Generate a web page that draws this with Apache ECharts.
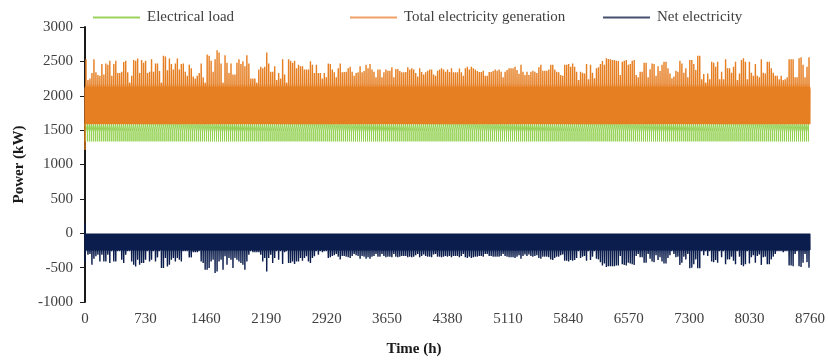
<!DOCTYPE html>
<html>
<head>
<meta charset="utf-8">
<script src="https://cdn.jsdelivr.net/npm/echarts@6/dist/echarts.min.js"></script>
<style>
  html, body { margin: 0; padding: 0; background: #fff; }
  #chart { width: 828px; height: 360px; }
</style>
</head>
<body>
<div id="chart"></div>
<script>
// Hourly simulation over one year (8760 h): load, generation and net exchange.
const xTicks = [0, 730, 1460, 2190, 2920, 3650, 4380, 5110, 5840, 6570, 7300, 8030, 8760];
const yTicks = [-1000, -500, 0, 500, 1000, 1500, 2000, 2500, 3000];
const seriesNames = ['Electrical load', 'Total electricity generation', 'Net electricity'];

// Typical hourly profile of the electrical load (kW), hour 0..23
const loadHours = [1598, 1600, 1596, 1600, 1470, 1336, 1480, 1597, 1600, 1598, 1600, 1596,
                   1600, 1598, 1595, 1600, 1597, 1600, 1598, 1600, 1596, 1600, 1598, 1600];

// Typical hourly generation (kW); hour 12 carries the daily peak below
const genHours = [1600, 2110, 1588, 2125, 1595, 2095, 1610, 2130, 1585, 2118, 2150, 2190,
                  2200, 2180, 2150, 2105, 1592, 2128, 1586, 2090, 1605, 2122, 1590, 2100];

// Typical hourly net electricity (kW); hour 12 carries the daily minimum below
const netHours = [-15, -180, -5, -228, -30, -160, -8, -250, -20, -205, -262, -280,
                  -285, -275, -258, -215, -25, -150, -5, -238, -18, -190, -8, -245];

// Daily generation peaks (kW), day 1..365
const genPeak = [
  2530, 2230, 2250, 2330, 2530, 2340, 2300, 2290, 2460, 2310,
  2470, 2450, 2510, 2290, 2460, 2510, 2330, 2330, 2350, 2490,
  2510, 2340, 2180, 2290, 2520, 2510, 2540, 2330, 2520, 2480,
  2510, 2330, 2350, 2530, 2350, 2470, 2470, 2360, 2190, 2580,
  2570, 2370, 2540, 2460, 2380, 2470, 2540, 2380, 2460, 2470,
  2350, 2290, 2450, 2400, 2280, 2250, 2290, 2330, 2470, 2270,
  2190, 2600, 2580, 2510, 2350, 2530, 2660, 2630, 2470, 2190,
  2590, 2480, 2330, 2470, 2310, 2310, 2480, 2530, 2460, 2500,
  2430, 2590, 2470, 2250, 2250, 2250, 2210, 2380, 2420, 2400,
  2420, 2630, 2470, 2350, 2350, 2430, 2230, 2330, 2250, 2530,
  2310, 2180, 2530, 2510, 2480, 2510, 2400, 2450, 2430, 2430,
  2380, 2380, 2380, 2500, 2450, 2330, 2450, 2330, 2330, 2250, 2330, 2270,
  2470, 2460, 2380, 2340, 2270, 2400, 2470, 2340, 2345, 2350,
  2400, 2420, 2350, 2290, 2330, 2340, 2430, 2340, 2360, 2450,
  2400, 2460, 2380, 2350, 2270, 2380, 2380, 2270, 2340, 2380,
  2365, 2365, 2415, 2270, 2390, 2390, 2360, 2340, 2340, 2345,
  2415, 2380, 2400, 2380, 2330, 2280, 2400, 2345, 2310, 2340,
  2365, 2380, 2380, 2310, 2290, 2365, 2380, 2400, 2380, 2350,
  2380, 2345, 2400, 2340, 2340, 2340, 2395, 2340, 2290, 2400,
  2420, 2380, 2420, 2400, 2380, 2360, 2345, 2345, 2365, 2290,
  2290, 2345, 2345, 2360, 2380, 2365, 2380, 2350, 2270, 2350,
  2375, 2400, 2400, 2400, 2420, 2375, 2320, 2450, 2350, 2300,
  2350, 2300, 2350, 2365, 2350, 2330, 2415, 2450, 2365, 2365,
  2365, 2380, 2450, 2450, 2380, 2350, 2340, 2300, 2290, 2450,
  2450, 2460, 2420,
  2470, 2420, 2350, 2230, 2350, 2335, 2325, 2460, 2240, 2450,
  2335, 2255, 2400, 2415, 2460, 2505, 2450, 2545, 2535, 2530,
  2520, 2520, 2510, 2505, 2300, 2495, 2510, 2520, 2450, 2460,
  2510, 2520, 2300, 2270, 2350, 2350, 2480, 2480, 2270, 2385,
  2470, 2460, 2290, 2430, 2360, 2450, 2495, 2495, 2400, 2325,
  2255, 2280, 2365, 2350, 2510, 2470, 2335, 2400, 2270, 2520,
  2520, 2460, 2375, 2580, 2580, 2240, 2315, 2205, 2325, 2240,
  2495, 2480, 2420, 2495, 2240, 2350, 2240, 2530, 2400, 2400,
  2335, 2420, 2495, 2230, 2325, 2520, 2545, 2495, 2240, 2495,
  2335, 2290, 2460, 2290, 2270, 2530, 2335, 2325, 2495, 2495,
  2400, 2335, 2290, 2290, 2240, 2290, 2230, 2240, 2270, 2530,
  2530, 2530, 2270, 2270, 2545, 2560, 2450, 2270, 2420, 2560
];

// Daily net electricity minima (kW), day 1..365
const netLow = [
  -288, -312, -303, -458, -370, -336, -312, -409, -312, -409,
  -409, -312, -433, -288, -409, -409, -264, -288, -385, -433,
  -312, -264, -288, -409, -458, -482, -385, -458, -433, -433,
  -385, -288, -409, -385, -288, -409, -351, -288, -506, -506,
  -361, -482, -458, -385, -361, -409, -361, -385, -409, -288,
  -264, -264, -351, -351, -191, -167, -191, -264, -409, -433,
  -530, -530, -506, -409, -385, -579, -555, -409, -385, -530,
  -336, -458, -361, -385, -506, -361, -385, -409, -433, -458,
  -530, -409, -312, -264, -191, -167, -118, -215, -312, -409,
  -361, -555, -361, -312, -433, -361, -264, -385, -288, -448,
  -142, -264, -433, -433, -409, -448, -409, -409, -361, -399,
  -361, -336, -409, -433, -361, -336, -288, -312, -240, -215, -240, -264,
  -360, -350, -330, -320, -300, -340, -380, -330, -330, -340,
  -350, -360, -330, -300, -320, -330, -370, -330, -340, -370,
  -350, -370, -340, -330, -300, -340, -340, -300, -330, -350,
  -340, -340, -350, -300, -340, -350, -340, -330, -330, -330,
  -350, -340, -350, -340, -320, -300, -350, -330, -310, -330,
  -340, -340, -350, -310, -300, -340, -340, -350, -340, -330,
  -340, -330, -350, -330, -330, -330, -350, -330, -300, -350,
  -360, -340, -360, -350, -340, -340, -330, -330, -340, -300,
  -300, -330, -330, -340, -340, -340, -340, -330, -300, -330,
  -340, -350, -350, -350, -360, -340, -320, -370, -330, -310,
  -330, -310, -330, -340, -330, -320, -360, -370, -340, -340,
  -340, -350, -380, -390, -360, -340, -340, -320, -310, -400,
  -400, -410, -390,
  -400, -390, -360, -290, -360, -340, -330, -400, -280, -390,
  -340, -290, -370, -380, -420, -470, -440, -490, -480, -480,
  -480, -480, -470, -470, -330, -450, -460, -470, -430, -440,
  -450, -460, -330, -300, -350, -350, -430, -430, -300, -370,
  -410, -420, -320, -390, -350, -410, -440, -440, -360, -320,
  -290, -300, -350, -340, -460, -430, -340, -380, -300, -510,
  -500, -450, -380, -510, -510, -280, -320, -260, -330, -280,
  -410, -420, -390, -430, -290, -350, -280, -450, -380, -380,
  -340, -400, -450, -280, -340, -460, -480, -450, -290, -440,
  -350, -320, -430, -330, -310, -460, -350, -340, -450, -450,
  -380, -340, -300, -270, -240, -260, -220, -250, -280, -470,
  -470, -480, -300, -290, -480, -490, -430, -300, -420, -500
];

// First hours of the year (start-up transient)
const genStart = [1210];
const netStart = [150, -420];

const PEAK_HOUR = 12;

function buildHourly(hours, daily, start) {
  const out = [];
  const days = daily ? daily.length : 365;
  for (let d = 0; d < days; d++) {
    for (let h = 0; h < 24; h++) {
      const t = d * 24 + h;
      let v = (daily && h === PEAK_HOUR) ? daily[d] : hours[h];
      if (start && t < start.length) v = start[t];
      out.push([t, v]);
    }
  }
  return out;
}

const loadData = buildHourly(loadHours, null, null);
const genData = buildHourly(genHours, genPeak, genStart);
const netData = buildHourly(netHours, netLow, netStart);

const colors = ['#92D050', '#E67E22', '#0B1D4C'];
const legendColors = ['#9BD35E', '#F0A064', '#44506E'];
const serif = 'Liberation Serif, Times New Roman, serif';

const chart = echarts.init(document.getElementById('chart'), null, { renderer: 'canvas' });

function legendAt(left, i) {
  return {
    left: left, top: 10, padding: 0,
    data: [{ name: seriesNames[i], icon: 'rect', itemStyle: { color: legendColors[i] } }],
    itemWidth: 47, itemHeight: 2, itemGap: 7,
    selectedMode: false,
    textStyle: { fontFamily: serif, fontSize: 15, color: '#404040', padding: [0, 0, 0, 2] }
  };
}

chart.setOption({
  animation: false,
  color: colors,
  legend: [legendAt(93, 0), legendAt(350, 1), legendAt(603, 2)],
  grid: { left: 85, right: 16, top: 27, bottom: 58, containLabel: false },
  xAxis: {
    type: 'value', min: xTicks[0], max: xTicks[xTicks.length - 1], interval: 730,
    position: 'bottom',
    axisLine: { show: false, onZero: false },
    axisTick: { show: false },
    splitLine: { show: false },
    axisLabel: { margin: 10, fontFamily: serif, fontSize: 15, color: '#404040',
                 formatter: v => String(v) }
  },
  yAxis: {
    type: 'value', min: yTicks[0], max: yTicks[yTicks.length - 1], interval: 500,
    name: 'Power (kW)', nameLocation: 'middle', nameGap: 56,
    nameTextStyle: { fontFamily: serif, fontSize: 15, fontWeight: 'bold', color: '#1a1a1a' },
    axisLine: { show: true, lineStyle: { color: '#1a1a1a', width: 2 } },
    axisTick: { show: true, length: 5, lineStyle: { color: '#1a1a1a', width: 1 } },
    splitLine: { show: false },
    axisLabel: { margin: 12, fontFamily: serif, fontSize: 15, color: '#404040',
                 formatter: v => String(v) }
  },
  graphic: [{
    type: 'text', left: 'center', top: 342,
    style: { text: 'Time (h)', font: 'bold 15px ' + serif, fill: '#1a1a1a' }
  }],
  series: [
    { name: seriesNames[0], type: 'line', data: loadData, showSymbol: false, symbol: 'none',
      lineStyle: { width: 1, color: colors[0] }, itemStyle: { color: colors[0] }, z: 2 },
    { name: seriesNames[1], type: 'line', data: genData, showSymbol: false, symbol: 'none',
      lineStyle: { width: 1.4, color: colors[1] }, itemStyle: { color: colors[1] }, z: 3 },
    { name: seriesNames[2], type: 'line', data: netData, showSymbol: false, symbol: 'none',
      lineStyle: { width: 1.4, color: colors[2] }, itemStyle: { color: colors[2] }, z: 4 }
  ]
});
</script>
</body>
</html>
